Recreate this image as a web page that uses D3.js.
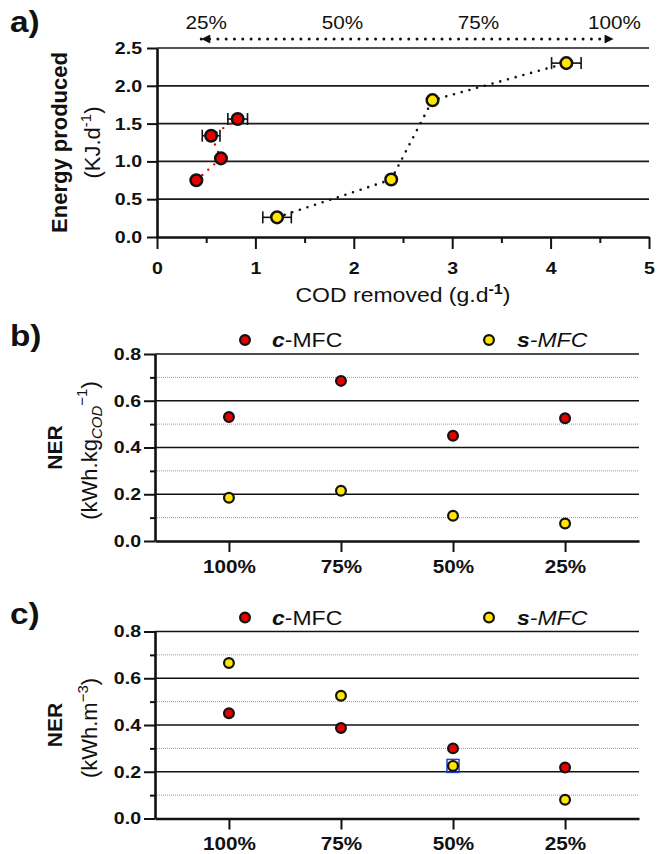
<!DOCTYPE html>
<html>
<head>
<meta charset="utf-8">
<script src="https://cdn.jsdelivr.net/npm/d3@7"></script>
<style>
  body { margin: 0; background: #fff; }
  svg { display: block; }
</style>
</head>
<body>
<svg id="chart" width="657" height="854"></svg>
<script>
// --- data panel a : COD removed vs energy produced ---
const codC = [0.40, 0.65, 0.55, 0.82]
const energyC = [0.75, 1.04, 1.34, 1.56]
const codErrC = [0, 0, 0.09, 0.10]
const codS = [1.22, 2.38, 2.80, 4.16]
const energyS = [0.26, 0.76, 1.81, 2.30]
const codErrS = [0.145, 0, 0, 0.15]
const loadLabels = ['25%', '50%', '75%', '100%']
const arrowSpan = [0.45, 4.64]
const xTicksA = [0, 1, 2, 3, 4, 5]
const yTicksA = [0, 0.5, 1, 1.5, 2, 2.5]

// --- data panels b and c : NER per load ---
const categories = ['100%', '75%', '50%', '25%']
const nerCodC = [0.53, 0.685, 0.45, 0.525]
const nerCodS = [0.185, 0.215, 0.108, 0.075]
const nerVolC = [0.45, 0.387, 0.30, 0.218]
const nerVolS = [0.665, 0.525, 0.225, 0.08]
const yTicksNer = [0, 0.2, 0.4, 0.6, 0.8]
const yMinorNer = [0.1, 0.3, 0.5, 0.7]

const FONT = '"Liberation Sans", Arial, Helvetica, sans-serif'
const RED = '#e60000'
const YELLOW = '#ffe600'
const INK = '#111'
const SX = 1.15 // les textes de la figure source sont un peu elargis

const svg = d3.select('#chart').attr('font-family', FONT)

// texte horizontal (legerement etire)
function hText(g, x, y, size, weight) {
    return g.append('text')
        .attr('transform', `translate(${x},${y}) scale(${SX},1)`)
        .attr('font-size', size)
        .attr('font-weight', weight || 'normal')
        .attr('fill', INK)
}

// texte vertical (titres d'axe y)
function vText(g, x, y, size, weight) {
    return g.append('text')
        .attr('transform', `translate(${x},${y}) rotate(-90)`)
        .attr('text-anchor', 'middle')
        .attr('font-size', size)
        .attr('font-weight', weight || 'normal')
        .attr('fill', INK)
}

function styleAxis(sel, size) {
    sel.attr('font-family', FONT)
    sel.select('.domain').attr('stroke', INK).attr('stroke-width', 2.6)
    sel.selectAll('.tick line').attr('stroke', INK).attr('stroke-width', 2)
    sel.selectAll('.tick text')
        .attr('font-size', size)
        .attr('font-weight', 'bold')
        .attr('fill', INK)
}

// marqueur fleche pour la double fleche du haut
svg.append('defs').append('marker')
    .attr('id', 'arrowHead')
    .attr('viewBox', '0 0 10 10')
    .attr('refX', 10).attr('refY', 5)
    .attr('markerWidth', 12).attr('markerHeight', 9)
    .attr('markerUnits', 'userSpaceOnUse')
    .attr('orient', 'auto-start-reverse')
    .append('path').attr('d', 'M0,0L10,5L0,10Z').attr('fill', INK)

// ================= PANEL a =================
const xA = d3.scaleLinear().domain([0, 5]).range([157, 649])
const yA = d3.scaleLinear().domain([0, 2.5]).range([237, 48])
const gA = svg.append('g')

// grille horizontale
gA.append('g').selectAll('line').data(yTicksA.slice(1)).join('line')
    .attr('x1', xA(0)).attr('x2', xA(5))
    .attr('y1', d => yA(d)).attr('y2', d => yA(d))
    .attr('stroke', '#1a1a1a').attr('stroke-width', 1.7)

// lignes pointillees point a point
const lineA = d3.line().x(d => xA(d[0])).y(d => yA(d[1]))

gA.append('path').datum(d3.zip(codC, energyC)).attr('d', lineA)
    .attr('fill', 'none').attr('stroke', RED).attr('stroke-width', 2.4)
    .attr('stroke-linecap', 'round').attr('stroke-dasharray', '0 8')
gA.append('path').datum(d3.zip(codS, energyS)).attr('d', lineA)
    .attr('fill', 'none').attr('stroke', INK).attr('stroke-width', 2.6)
    .attr('stroke-linecap', 'round').attr('stroke-dasharray', '0 8')

// barres d'erreur horizontales
function errorBars(xs, ys, errs) {
    xs.forEach((x, i) => {
        if (!errs[i]) return
        const y = yA(ys[i])
        const x1 = xA(x - errs[i]), x2 = xA(x + errs[i])
        const eb = gA.append('g').attr('stroke', INK).attr('stroke-width', 1.6)
        eb.append('line').attr('x1', x1).attr('x2', x2).attr('y1', y).attr('y2', y)
        eb.append('line').attr('x1', x1).attr('x2', x1).attr('y1', y - 6).attr('y2', y + 6)
        eb.append('line').attr('x1', x2).attr('x2', x2).attr('y1', y - 6).attr('y2', y + 6)
    })
}
errorBars(codC, energyC, codErrC)
errorBars(codS, energyS, codErrS)

// points
gA.append('g').selectAll('circle').data(d3.zip(codC, energyC)).join('circle')
    .attr('cx', d => xA(d[0])).attr('cy', d => yA(d[1])).attr('r', 5.8)
    .attr('fill', RED).attr('stroke', INK).attr('stroke-width', 2.5)
gA.append('g').selectAll('circle').data(d3.zip(codS, energyS)).join('circle')
    .attr('cx', d => xA(d[0])).attr('cy', d => yA(d[1])).attr('r', 5.8)
    .attr('fill', YELLOW).attr('stroke', INK).attr('stroke-width', 2.5)

// axes
const axXA = gA.append('g').attr('transform', `translate(0,${yA(0)})`)
    .call(d3.axisBottom(xA).tickValues(xTicksA).tickFormat(d3.format('d'))
        .tickSize(12).tickPadding(13).tickSizeOuter(0))
styleAxis(axXA, 17)
const axXAminor = gA.append('g').attr('transform', `translate(0,${yA(0)})`)
    .call(d3.axisBottom(xA).tickValues(d3.range(0.5, 5, 1)).tickFormat('').tickSize(6))
axXAminor.select('.domain').remove()
axXAminor.selectAll('.tick line').attr('stroke', INK).attr('stroke-width', 2)

const axYA = gA.append('g').attr('transform', `translate(${xA(0)},0)`)
    .call(d3.axisLeft(yA).tickValues(yTicksA).tickFormat(d3.format('.1f'))
        .tickSize(10).tickPadding(5).tickSizeOuter(0))
styleAxis(axYA, 17)
axYA.selectAll('.tick text').attr('x', -15 / SX).attr('transform', `scale(${SX},1)`)
axXA.selectAll('.tick text').attr('transform', `scale(${SX},1)`)

// double fleche + pourcentages du haut
gA.append('line')
    .attr('x1', xA(arrowSpan[0])).attr('x2', xA(arrowSpan[1]))
    .attr('y1', 39).attr('y2', 39)
    .attr('stroke', INK).attr('stroke-width', 3)
    .attr('stroke-linecap', 'round').attr('stroke-dasharray', '0 8.3')
    .attr('marker-start', 'url(#arrowHead)').attr('marker-end', 'url(#arrowHead)')

const xLoad = d3.scalePoint().domain(loadLabels).range([xA(0.5), xA(4.65)])
loadLabels.forEach(l => {
    hText(gA, xLoad(l), 29, 18).attr('text-anchor', 'middle').text(l)
})

// titres
const xTitleA = hText(gA, (xA(0) + xA(5)) / 2, 302, 20).attr('text-anchor', 'middle')
xTitleA.append('tspan').text('COD removed (g.d')
xTitleA.append('tspan').attr('font-size', 14).attr('font-weight', 'bold').attr('dy', -8).text('-1')
xTitleA.append('tspan').attr('dy', 8).text(')')

vText(gA, 67, (yA(0) + yA(2.5)) / 2, 22, 'bold').text('Energy produced')
const yTitleA = vText(gA, 100, (yA(0) + yA(2.5)) / 2, 22)
yTitleA.append('tspan').text('(KJ.d')
yTitleA.append('tspan').attr('font-size', 15).attr('dy', -9).text('-1')
yTitleA.append('tspan').attr('dy', 9).text(')')

hText(gA, 10, 32, 29, 'bold').text('a)')

// ================= PANELS b et c =================
function drawNer(top, cVals, sVals, letter, unitLabel) {
    const g = svg.append('g')
    const x = d3.scalePoint().domain(categories).range([155, 639]).padding(0.66)
    const y = d3.scaleLinear().domain([0, 0.8]).range([top + 187, top])

    // grille : pleine aux majeures, pointillee grise aux mineures
    g.append('g').selectAll('line').data(yMinorNer).join('line')
        .attr('x1', 155).attr('x2', 639)
        .attr('y1', d => y(d)).attr('y2', d => y(d))
        .attr('stroke', '#9a9a9a').attr('stroke-width', 1).attr('stroke-dasharray', '1 1')
    g.append('g').selectAll('line').data(yTicksNer.slice(1)).join('line')
        .attr('x1', 155).attr('x2', 639)
        .attr('y1', d => y(d)).attr('y2', d => y(d))
        .attr('stroke', INK).attr('stroke-width', 1.6)

    // carre bleu (selection) autour du point s-MFC 50% du panel c
    if (letter === 'c)') {
        const i = categories.indexOf('50%')
        g.append('rect')
            .attr('x', x(categories[i]) - 6).attr('y', y(sVals[i]) - 6.5)
            .attr('width', 12).attr('height', 13)
            .attr('fill', 'none').attr('stroke', '#2340c8').attr('stroke-width', 1.5)
    }

    // points
    g.append('g').selectAll('circle').data(d3.zip(categories, cVals)).join('circle')
        .attr('cx', d => x(d[0])).attr('cy', d => y(d[1])).attr('r', 4.9)
        .attr('fill', RED).attr('stroke', INK).attr('stroke-width', 2.2)
    g.append('g').selectAll('circle').data(d3.zip(categories, sVals)).join('circle')
        .attr('cx', d => x(d[0])).attr('cy', d => y(d[1])).attr('r', 4.9)
        .attr('fill', YELLOW).attr('stroke', INK).attr('stroke-width', 2.2)

    // axes
    const axX = g.append('g').attr('transform', `translate(0,${y(0)})`)
        .call(d3.axisBottom(x).tickSize(11).tickPadding(8).tickSizeOuter(0))
    styleAxis(axX, 18)
    axX.selectAll('.tick text').attr('transform', `scale(${SX},1)`)

    const axY = g.append('g').attr('transform', 'translate(155,0)')
        .call(d3.axisLeft(y).tickValues(yTicksNer).tickFormat(d3.format('.1f'))
            .tickSize(11).tickPadding(3).tickSizeOuter(0))
    styleAxis(axY, 17)
    axY.selectAll('.tick text').attr('x', -14 / SX).attr('transform', `scale(${SX},1)`)
    const axYminor = g.append('g').attr('transform', 'translate(155,0)')
        .call(d3.axisLeft(y).tickValues(yMinorNer).tickFormat('').tickSize(5))
    axYminor.select('.domain').remove()
    axYminor.selectAll('.tick line').attr('stroke', INK).attr('stroke-width', 2)

    // legende
    const ly = top - 14
    g.append('circle').attr('cx', 245).attr('cy', ly).attr('r', 4.9)
        .attr('fill', RED).attr('stroke', INK).attr('stroke-width', 2.2)
    const lc = hText(g, 272, ly + 7, 20)
    lc.append('tspan').attr('font-weight', 'bold').attr('font-style', 'italic').text('c')
    lc.append('tspan').text('-MFC')
    g.append('circle').attr('cx', 489).attr('cy', ly).attr('r', 4.9)
        .attr('fill', YELLOW).attr('stroke', INK).attr('stroke-width', 2.2)
    const ls = hText(g, 517, ly + 7, 20).attr('font-style', 'italic')
    ls.append('tspan').attr('font-weight', 'bold').text('s')
    ls.append('tspan').text('-MFC')

    // titres
    const yc = top + 93.5
    vText(g, 62, yc, 21, 'bold').text('NER')
    unitLabel(vText(g, 97, yc + 3, 22))

    hText(g, 10, top - 8, 29, 'bold').text(letter)
}

drawNer(354, nerCodC, nerCodS, 'b)', t => {
    t.append('tspan').text('(kWh.kg')
    t.append('tspan').attr('font-size', 15).attr('font-style', 'italic').attr('dy', 5).text('COD')
    t.append('tspan').attr('font-size', 15).attr('dy', -15).text('\u22121')
    t.append('tspan').attr('dy', 10).text(')')
})

drawNer(631.5, nerVolC, nerVolS, 'c)', t => {
    t.append('tspan').text('(kWh.m')
    t.append('tspan').attr('font-size', 15).attr('dy', -9).text('\u22123')
    t.append('tspan').attr('dy', 9).text(')')
})
</script>
</body>
</html>
